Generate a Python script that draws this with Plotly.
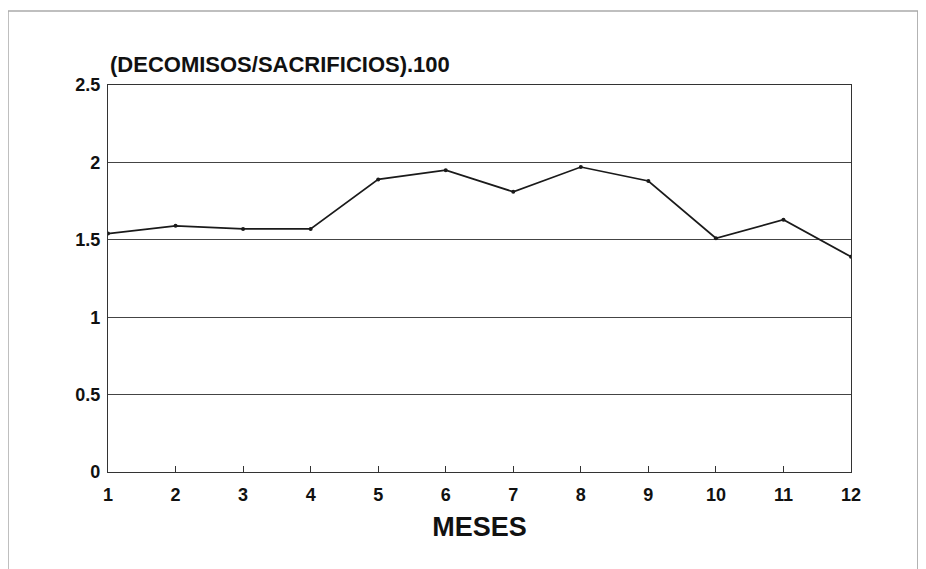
import plotly.graph_objects as go

meses = [1, 2, 3, 4, 5, 6, 7, 8, 9, 10, 11, 12]
valores = [1.54, 1.59, 1.57, 1.57, 1.89, 1.95, 1.81, 1.97, 1.88, 1.51, 1.63, 1.39]
y_ticks = [0, 0.5, 1, 1.5, 2, 2.5]
y_labels = ["0", "0.5", "1", "1.5", "2", "2.5"]
x_title = "MESES"
y_title = "(DECOMISOS/SACRIFICIOS).100"

fig = go.Figure()
fig.add_trace(go.Scatter(
    x=meses, y=valores, mode="lines+markers",
    line=dict(color="#1a1a1a", width=1.7),
    marker=dict(color="#1a1a1a", size=4),
    showlegend=False,
))

font_fam = "Liberation Sans, Arial, sans-serif"
fig.update_layout(
    width=926, height=569,
    margin=dict(l=100, r=83, t=77, b=105),
    paper_bgcolor="white", plot_bgcolor="white",
    font=dict(family=font_fam, color="#111"),
    xaxis=dict(
        range=[1, 12], tickvals=meses, ticktext=[str(m) for m in meses],
        showgrid=False, zeroline=False,
        showline=True, linecolor="#333", linewidth=1.3, mirror=True,
        ticks="inside", ticklen=6, tickcolor="#333",
        ticklabelstandoff=6,
        tickfont=dict(size=18, family=font_fam, color="#111", weight="bold"),
        title=dict(text=x_title, font=dict(size=27, family=font_fam, color="#111", weight="bold"), standoff=13),
    ),
    yaxis=dict(
        range=[0, 2.5], tickvals=y_ticks, ticktext=y_labels,
        showgrid=True, gridcolor="#444", gridwidth=1,
        zeroline=False,
        showline=True, linecolor="#333", linewidth=1.3, mirror=True,
        ticks="", ticklabelstandoff=3,
        tickfont=dict(size=18, family=font_fam, color="#111", weight="bold"),
    ),
    annotations=[dict(
        text="<b>" + y_title + "</b>", xref="paper", yref="paper",
        x=0.0, y=1.0, xanchor="left", yanchor="bottom", yshift=6,
        showarrow=False, font=dict(size=22, family=font_fam, color="#111"),
    )],
    shapes=[dict(
        type="rect", xref="paper", yref="paper",
        x0=-0.1346, x1=1.090, y0=-0.35, y1=1.191,
        line=dict(color="#aaa", width=1.5), fillcolor="rgba(0,0,0,0)",
    )],
)

fig.write_html("out.html")
